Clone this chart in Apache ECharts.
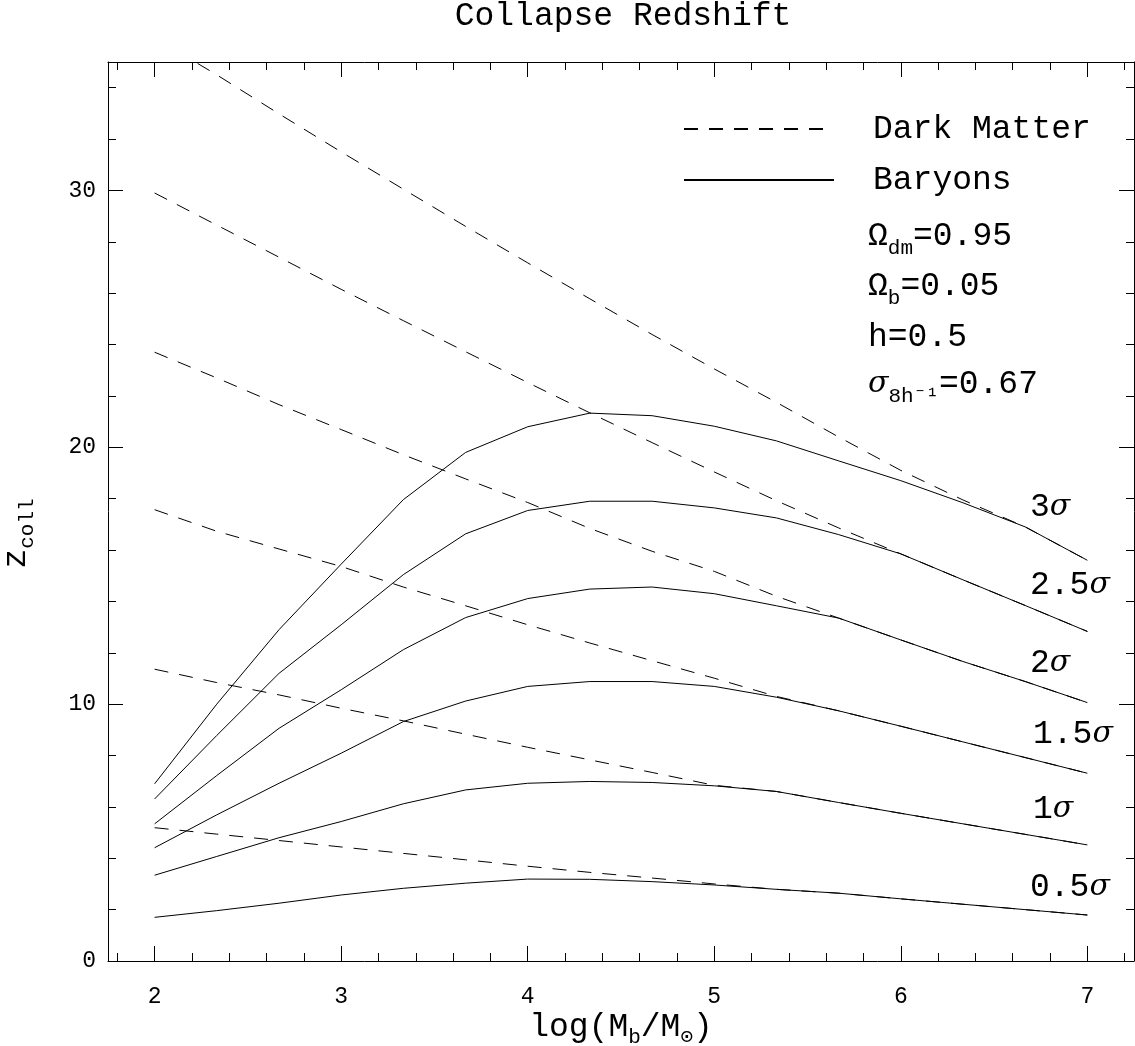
<!DOCTYPE html>
<html><head><meta charset="utf-8">
<script src="https://cdn.jsdelivr.net/npm/echarts@6/dist/echarts.min.js"></script>
<style>html,body{margin:0;padding:0;background:#fff}#c{width:1135px;height:1046px}</style>
</head><body><div id="c"></div>
<script>
// x grid: log(M_b/M_sun)
const logM = [2, 2.333, 2.667, 3, 3.333, 3.667, 4, 4.333, 4.667, 5, 5.333, 5.667, 6, 6.333, 6.667, 7];
// Dark matter collapse redshifts (dashed)
const dm05 = [5.19, 4.94, 4.69, 4.44, 4.19, 3.94, 3.69, 3.45, 3.23, 3.00, 2.79, 2.64, 2.42, 2.21, 2.00, 1.79];
const dm10 = [11.36, 10.84, 10.36, 9.84, 9.35, 8.83, 8.32, 7.83, 7.34, 6.84, 6.60, 6.17, 5.75, 5.34, 4.93, 4.52];
const dm15 = [17.57, 16.73, 16.04, 15.36, 14.56, 13.83, 13.09, 12.38, 11.69, 11.01, 10.30, 9.74, 9.14, 8.53, 7.92, 7.31];
const dm20 = [23.7, 22.7, 21.66, 20.69, 19.71, 18.77, 17.85, 16.84, 15.95, 15.17, 14.2, 13.35, 12.5, 11.66, 10.88, 10.06];
const dm25 = [29.9, 28.65, 27.4, 26.15, 24.93, 23.72, 22.52, 21.34, 20.18, 19.04, 17.92, 16.86, 15.85, 14.84, 13.84, 12.83];
const dm30 = [35.94, 34.5, 32.98, 31.5, 30.05, 28.6, 27.18, 25.78, 24.39, 23.05, 21.75, 20.4, 19.1, 17.95, 16.9, 15.6];
// Baryon collapse redshifts (solid)
const b05 = [1.70, 1.96, 2.25, 2.57, 2.83, 3.03, 3.19, 3.18, 3.09, 2.96, 2.79, 2.64, 2.42, 2.21, 2.00, 1.79];
const b10 = [3.34, 4.07, 4.80, 5.43, 6.12, 6.66, 6.92, 6.99, 6.95, 6.82, 6.60, 6.17, 5.75, 5.34, 4.93, 4.52];
const b15 = [4.41, 5.69, 6.92, 8.09, 9.32, 10.12, 10.69, 10.88, 10.88, 10.69, 10.27, 9.74, 9.14, 8.53, 7.92, 7.31];
const b20 = [5.34, 7.22, 9.06, 10.56, 12.12, 13.37, 14.11, 14.48, 14.56, 14.30, 13.83, 13.35, 12.50, 11.66, 10.88, 10.06];
const b25 = [6.31, 8.78, 11.2, 13.09, 15.04, 16.63, 17.54, 17.9, 17.9, 17.64, 17.25, 16.6, 15.85, 14.84, 13.84, 12.83];
const b30 = [6.9, 10.0, 12.9, 15.45, 17.96, 19.8, 20.8, 21.33, 21.23, 20.82, 20.25, 19.47, 18.7, 17.84, 16.9, 15.6];
const sigmaLabels = ['3σ', '2.5σ', '2σ', '1.5σ', '1σ', '0.5σ'];
const seriesNames = ['Dark Matter', 'Baryons'];

const F = "'Liberation Mono', 'DejaVu Sans Mono', monospace";
const chart = echarts.init(document.getElementById('c'));
const pts = ys => logM.map((x, i) => [x, ys[i]]);
const series = [];
[dm05, dm10, dm15, dm20, dm25, dm30].forEach(d => series.push({
  name: seriesNames[0], type: 'line', data: pts(d), symbol: 'none', silent: true,
  lineStyle: {color: '#000', width: 1, type: [14, 11]}, itemStyle: {color: '#000'}
}));
[b05, b10, b15, b20, b25, b30].forEach(d => series.push({
  name: seriesNames[1], type: 'line', data: pts(d), symbol: 'none', silent: true,
  lineStyle: {color: '#000', width: 1, type: 'solid'}, itemStyle: {color: '#000'}
}));

const axisCommon = {
  axisLine: {show: true, onZero: false, lineStyle: {color: '#000', width: 1}},
  axisTick: {show: true, inside: true, length: 15, lineStyle: {color: '#000', width: 1}},
  minorTick: {show: true, splitNumber: 5, length: 8, lineStyle: {color: '#000', width: 1}},
  splitLine: {show: false}
};
const labelStyle = {color: '#000', fontFamily: F, fontSize: 23};

const sigmaY = [507, 585, 663, 734, 809, 887];
const sigmaX = [1030, 1030, 1030, 1033, 1033, 1030];
const graphics = sigmaLabels.map((t, i) => {
  const num = t.slice(0, -1);
  return {
    type: 'text', x: sigmaX[i], y: sigmaY[i], silent: true,
    style: {
      text: '{n|' + num + '}{g|σ}', verticalAlign: 'middle',
      rich: {n: {fontFamily: F, fontSize: 33, fill: '#000'},
             g: {fontFamily: "'DejaVu Serif', serif", fontStyle: 'italic', fontSize: 30, fill: '#000'}}
    }
  };
});
const paramRich = {
  o: {fontFamily: F, fontSize: 33, fill: '#000', lineHeight: 40},
  g: {fontFamily: "'DejaVu Serif', serif", fontStyle: 'italic', fontSize: 30, fill: '#000', lineHeight: 40},
  s: {fontFamily: F, fontSize: 21, fill: '#000', lineHeight: 40, padding: [24, 0, 0, 0]}
};
[['{o|Ω}{s|dm}{o|=0.95}', 236], ['{o|Ω}{s|b}{o|=0.05}', 286], ['{o|h=0.5}', 337], ['{g|σ}{s|8h⁻¹}{o|=0.67}', 384]].forEach(p => {
  graphics.push({type: 'text', x: 868, y: p[1], silent: true,
    style: {text: p[0], verticalAlign: 'middle', rich: paramRich}});
});

chart.setOption({
  animation: false,
  backgroundColor: '#fff',
  title: {text: 'Collapse Redshift', left: 618, textAlign: 'center', top: -5,
    textStyle: {fontFamily: F, fontSize: 33, fontWeight: 'normal', color: '#000'}},
  grid: {left: 108, top: 62, width: 1026, height: 899, containLabel: false, outerBoundsMode: 'none'},
  legend: {
    data: seriesNames, orient: 'vertical', left: 678, top: 104, itemWidth: 150, itemHeight: 14,
    itemGap: 11, selectedMode: false,
    itemStyle: {color: 'rgba(0,0,0,0)', borderColor: 'rgba(0,0,0,0)', borderWidth: 0},
    textStyle: {fontFamily: F, fontSize: 33, color: '#000', padding: [0, 0, 0, 34], lineHeight: 40}
  },
  xAxis: [
    Object.assign({type: 'value', min: 1.75, max: 7.25, position: 'bottom',
      axisLabel: Object.assign({show: true, showMinLabel: false, showMaxLabel: false, margin: 24}, labelStyle),
      name: '{n|log(M}{s|b}{n|/M}{s|⊙}{n|)}', nameLocation: 'middle', nameGap: 46, nameMoveOverlap: false,
      nameTextStyle: {rich: {n: {fontFamily: F, fontSize: 33, color: '#000', lineHeight: 40},
                             s: {fontFamily: F + ", 'DejaVu Sans'", fontSize: 21, color: '#000', lineHeight: 40, padding: [20, 0, 0, 0]}}}
    }, axisCommon),
    Object.assign({type: 'value', min: 1.75, max: 7.25, position: 'top', axisLabel: {show: false}}, axisCommon)
  ],
  yAxis: [
    Object.assign({type: 'value', min: 0, max: 35, interval: 10, position: 'left',
      axisLabel: Object.assign({show: true, showMaxLabel: false, margin: 12}, labelStyle),
      name: '{n|z}{s|coll}', nameLocation: 'middle', nameGap: 72, nameRotate: 90,
      nameTextStyle: {padding: [0, 44, 0, 0],
                      rich: {n: {fontFamily: F, fontSize: 33, color: '#000', lineHeight: 40},
                             s: {fontFamily: F, fontSize: 21, color: '#000', lineHeight: 40, padding: [22, 0, 0, 0]}}}
    }, axisCommon),
    Object.assign({type: 'value', min: 0, max: 35, interval: 10, position: 'right', axisLabel: {show: false}}, axisCommon)
  ],
  series: series,
  graphic: graphics
});
</script></body></html>
